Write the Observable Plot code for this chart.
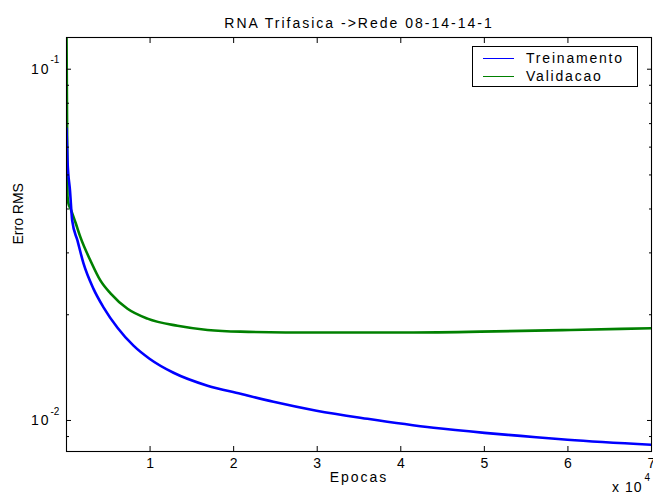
<!DOCTYPE html>
<html>
<head>
<meta charset="utf-8">
<script src="https://cdn.jsdelivr.net/npm/d3@7"></script>
<script src="https://cdn.jsdelivr.net/npm/@observablehq/plot@0.6"></script>
<style>
  body { margin: 0; background: #fff; }
  #wrap { position: relative; width: 653px; height: 495px; overflow: hidden; font-family: "Liberation Sans", Arial, sans-serif; }
  #legend { position: absolute; left: 472px; top: 46px; width: 166px; height: 41px; border: 1px solid #000; background: #fff; box-sizing: border-box; font-size: 14px; letter-spacing: 1.8px; }
  #legend .row { position: absolute; left: 10px; height: 18px; display: flex; align-items: center; white-space: nowrap; }
  #legend .sw { width: 31px; height: 0; border-top: 1.2px solid; margin-right: 12px; }
</style>
</head>
<body>
<div id="wrap"></div>
<script>
// ---- data ----
const titleText = "RNA Trifasica ->Rede 08-14-14-1";
const xLabel = "Epocas";
const yLabel = "Erro RMS";
const xScaleNote = "x 10";
const xScaleExp = "4";
const seriesNames = ["Treinamento", "Validacao"];
const seriesColors = ["#0000ff", "#008000"];

const trainEpochs = [0, 120, 419, 682, 1316, 2034, 3231, 4427, 6103, 8017, 9932, 12804, 16873, 20821, 24770, 29915, 36018, 43915, 50018, 54326, 59950, 70000];
const trainErr    = [0.0678, 0.0549, 0.0451, 0.0371, 0.0325, 0.0280, 0.0237, 0.0210, 0.01837, 0.01633, 0.01499, 0.01367, 0.01256, 0.01191, 0.01130, 0.01066, 0.01011, 0.00953, 0.00922, 0.00904, 0.00881, 0.00853];

const validEpochs = [0, 120, 240, 479, 1077, 1675, 2872, 4068, 5265, 7300, 9690, 13280, 16870, 20820, 30000, 40000, 49540, 60300, 70000];
const validErr    = [0.13, 0.0436, 0.0414, 0.0401, 0.0366, 0.0332, 0.0285, 0.0250, 0.0230, 0.0208, 0.0195, 0.0186, 0.0181, 0.0179, 0.0178, 0.0178, 0.0179, 0.0181, 0.0183];

const xDomain = [0, 70000];
const yDomain = [0.00816, 0.1231];
const xTicks = [10000, 20000, 30000, 40000, 50000, 60000, 70000];
const yMajorTicks = [0.01, 0.1];
const yMajorExp = ["-2", "-1"];
const yMinorTicks = [0.009, 0.02, 0.03, 0.04, 0.05, 0.06, 0.07, 0.08, 0.09];

const train = trainEpochs.map((x, i) => ({x, y: trainErr[i]}));
const valid = validEpochs.map((x, i) => ({x, y: validErr[i]}));
const yMajor = yMajorTicks.map((v, i) => ({v, e: yMajorExp[i]}));

const font = "Liberation Sans, Arial, sans-serif";

const chart = Plot.plot({
  width: 653,
  height: 495,
  marginLeft: 66,
  marginRight: 2,
  marginTop: 37,
  marginBottom: 44,
  style: { fontFamily: font, fontSize: "14px", background: "#fff", color: "#000", overflow: "hidden" },
  x: { domain: xDomain },
  y: { type: "log", domain: yDomain },
  marks: [
    Plot.line(valid, { x: "x", y: "y", stroke: seriesColors[1], strokeWidth: 2.6, curve: "monotone-x", clip: true }),
    Plot.line(train, { x: "x", y: "y", stroke: seriesColors[0], strokeWidth: 2.6, curve: "monotone-x", clip: true }),
    // inward ticks
    Plot.axisX({ ticks: xTicks, tickSize: -5, tickFormat: () => "", label: null, stroke: "#000" }),
    Plot.axisX({ anchor: "top", ticks: xTicks, tickSize: -5, tickFormat: () => "", label: null, stroke: "#000" }),
    Plot.axisX({ ticks: xTicks, tickSize: 0, tickPadding: 7, tickFormat: d => String(d / 10000), label: null, fontSize: 14, fill: "#000" }),
    Plot.axisY({ ticks: yMajorTicks, tickSize: -5, tickFormat: () => "", label: null }),
    Plot.axisY({ ticks: yMinorTicks, tickSize: -3, tickFormat: () => "", label: null }),
    Plot.axisY({ anchor: "right", ticks: yMajorTicks, tickSize: -5, tickFormat: () => "", label: null }),
    Plot.axisY({ anchor: "right", ticks: yMinorTicks, tickSize: -3, tickFormat: () => "", label: null }),
    // y tick labels 10^n
    Plot.text(yMajor, { y: "v", text: () => "10", frameAnchor: "left", dx: -16, textAnchor: "end", fontSize: 14, fill: "#000", className: "sp" }),
    Plot.text(yMajor, { y: "v", text: "e", frameAnchor: "left", dx: -16, dy: -9, textAnchor: "start", fontSize: 10, fill: "#000" }),
    Plot.frame({ stroke: "#000", strokeWidth: 1.1 }),
    // titles
    Plot.text([titleText], { frameAnchor: "top", dy: -19, fontSize: 14, fill: "#000", className: "sp" }),
    Plot.text([xLabel], { frameAnchor: "bottom", dy: 30, fontSize: 14, fill: "#000", className: "sp" }),
    Plot.text([yLabel], { frameAnchor: "left", dx: -48, rotate: -90, fontSize: 14, fill: "#000" }),
    Plot.text([xScaleNote], { frameAnchor: "bottom-right", dx: -9, dy: 40, textAnchor: "end", fontSize: 14, fill: "#000", className: "sp1" }),
    Plot.text([xScaleExp], { frameAnchor: "bottom-right", dx: -7, dy: 29, textAnchor: "start", fontSize: 10, fill: "#000" })
  ]
});

const wrap = document.getElementById("wrap");
wrap.appendChild(chart);
chart.querySelectorAll("g.sp text").forEach(t => t.style.letterSpacing = "2px");
chart.querySelectorAll("g.sp1 text").forEach(t => t.style.letterSpacing = "1px");

const legend = document.createElement("div");
legend.id = "legend";
seriesNames.forEach((name, i) => {
  const row = document.createElement("div");
  row.className = "row";
  row.style.top = (i === 0 ? 2 : 20) + "px";
  const sw = document.createElement("div");
  sw.className = "sw";
  sw.style.borderTopColor = seriesColors[i];
  const lab = document.createElement("span");
  lab.textContent = name;
  row.appendChild(sw);
  row.appendChild(lab);
  legend.appendChild(row);
});
wrap.appendChild(legend);
</script>
</body>
</html>
